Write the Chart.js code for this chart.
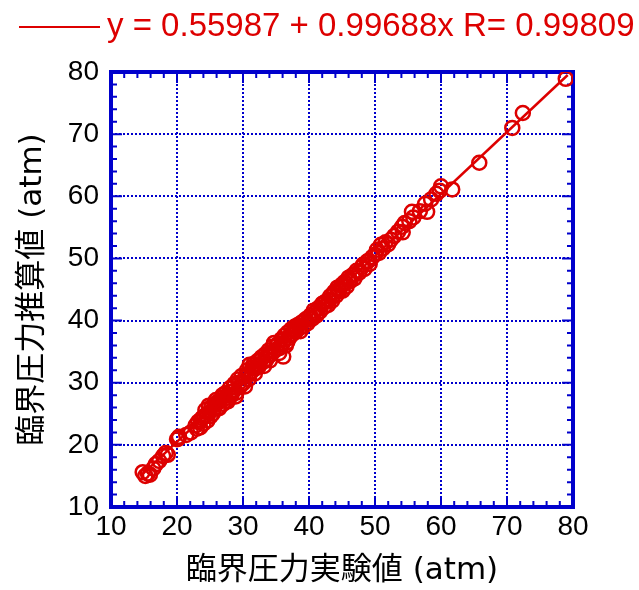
<!DOCTYPE html>
<html>
<head>
<meta charset="utf-8">
<script src="https://cdn.jsdelivr.net/npm/chart.js@4"></script>
<style>
  html, body { margin: 0; padding: 0; background: #fff; }
  #box { width: 639px; height: 590px; }
</style>
</head>
<body>
<div id="box"><canvas id="graph"></canvas></div>
<script>
// measured (x) vs estimated (y) critical pressure, atm
const expValues = [
  14.8, 15.2, 15.6, 15.9, 16.4, 16.8, 17.3, 17.9, 18.3, 18.6,
  20.0, 20.3, 21.4, 22.1, 22.8, 23.2, 23.5, 23.8, 24.1, 24.3,
  24.6, 24.9, 25.2, 25.4, 25.7, 25.9, 26.2, 26.5, 26.8, 27.0,
  27.3, 27.5, 27.8, 28.0, 28.2, 28.5, 28.7, 29.0, 29.2, 29.5,
  29.8, 30.1, 30.3, 30.6, 30.8, 31.0, 31.3, 31.6, 31.9, 32.2,
  32.5, 32.8, 33.1, 33.4, 33.6, 33.9, 34.2, 34.5, 34.7, 35.0,
  35.3, 35.5, 35.8, 36.0, 36.1, 36.3, 36.5, 36.8, 37.0, 37.3,
  37.5, 37.8, 38.0, 38.3, 38.6, 38.9, 39.2, 39.5, 39.8, 40.2,
  40.5, 40.8, 41.1, 41.4, 41.7, 42.0, 42.3, 42.6, 42.9, 43.2,
  43.5, 43.8, 44.1, 44.3, 44.6, 44.9, 45.1, 45.4, 45.7, 46.0,
  46.3, 46.6, 46.9, 47.2, 47.6, 48.0, 48.4, 48.8, 49.2, 49.6,
  50.0, 50.3, 50.6, 50.9, 51.2, 51.6, 52.0, 52.4, 52.9, 53.5,
  54.1, 54.2, 54.5, 55.2, 55.6, 55.8, 56.8, 57.9, 57.6, 58.5,
  59.3, 60.0, 59.8, 61.7, 65.8, 70.8, 72.4, 78.9,
  23.0, 23.6, 24.0, 24.4, 24.8, 25.1, 25.6, 26.0, 26.4, 26.9,
  27.2, 27.7, 28.1, 28.6, 28.9, 29.4, 29.9, 30.4, 30.9, 31.4,
  31.8, 32.3, 32.7, 33.2, 33.7, 34.1, 34.6, 35.1, 35.6, 36.2,
  36.7, 37.2, 37.7, 38.2, 38.7, 39.3, 40.0, 40.7, 41.3, 42.2,
  43.0, 43.7, 44.5, 45.0, 45.6, 46.2, 47.0, 48.2, 49.0, 20.2
];
const calcValues = [
  15.6, 15.0, 15.4, 15.2, 16.2, 16.9, 17.4, 18.2, 18.7, 18.4,
  20.9, 21.3, 21.6, 22.0, 23.1, 23.7, 22.8, 24.3, 24.6, 25.6,
  23.9, 25.2, 26.1, 25.0, 26.5, 27.2, 26.0, 27.0, 27.6, 26.6,
  28.3, 27.1, 28.0, 29.1, 27.9, 28.6, 29.8, 28.4, 30.5, 29.3,
  31.1, 30.0, 29.4, 32.0, 31.2, 32.9, 31.8, 33.0, 32.3, 33.5,
  32.8, 34.1, 33.4, 34.6, 33.8, 35.2, 34.5, 35.8, 36.4, 35.3,
  36.2, 34.8, 37.0, 36.3, 34.2, 37.6, 36.0, 38.1, 37.2, 38.6,
  37.8, 39.0, 38.2, 39.3, 38.8, 39.7, 39.1, 40.2, 39.6, 40.8,
  40.3, 41.2, 40.8, 42.0, 41.5, 42.7, 42.2, 43.1, 42.5, 43.9,
  43.2, 44.6, 44.0, 45.3, 44.7, 45.6, 44.8, 46.2, 45.5, 46.9,
  46.4, 47.3, 46.8, 48.0, 47.7, 48.6, 48.3, 49.5, 49.1, 50.2,
  50.6, 51.4, 50.9, 52.2, 51.6, 52.6, 52.3, 53.0, 53.6, 54.3,
  55.1, 54.2, 55.7, 56.0, 57.5, 56.6, 57.6, 57.5, 58.8, 59.5,
  60.4, 61.6, 60.9, 61.1, 65.4, 71.0, 73.4, 78.9,
  22.6, 24.0, 23.4, 24.8, 26.3, 24.6, 25.8, 26.8, 25.9, 28.0,
  27.4, 27.0, 28.5, 29.4, 27.8, 30.0, 29.8, 31.1, 30.6, 32.4,
  31.5, 32.6, 33.6, 32.7, 34.4, 33.6, 35.0, 36.0, 35.6, 36.9,
  36.5, 37.7, 38.4, 38.9, 38.3, 39.9, 40.4, 41.6, 41.1, 42.8,
  43.3, 44.1, 45.0, 45.8, 46.0, 46.6, 47.5, 49.0, 49.6, 21.0
];
const fitIntercept = 0.55987;
const fitSlope = 0.99688;
const fitR = 0.99809;
const fitRange = [14.5, 79.2];
const axisTicks = [10, 20, 30, 40, 50, 60, 70, 80];

const red = "#dd0000";
const blue = "#0000cc";
const font = "'Liberation Sans', 'Noto Sans CJK JP', sans-serif";
const titleFont = "'DejaVu Sans', 'Noto Sans CJK JP', sans-serif";

let points = expValues.map((x, i) => ({ x: x, y: calcValues[i] }));
let fitLine = fitRange.map((x) => ({ x: x, y: fitIntercept + fitSlope * x }));

// frame, inner ticks and the legend
const framePlugin = {
  id: "frame",
  beforeDatasetsDraw(chart) {
    const { ctx, chartArea: a, scales } = chart;
    ctx.save();
    ctx.strokeStyle = blue;
    ctx.lineWidth = 2;
    for (let v = 10; v <= 80; v += 2) {
      const len = v % 10 === 0 ? 11 : 6;
      const px = scales.x.getPixelForValue(v);
      const py = scales.y.getPixelForValue(v);
      ctx.beginPath();
      ctx.moveTo(px, a.bottom); ctx.lineTo(px, a.bottom - len);
      ctx.moveTo(px, a.top); ctx.lineTo(px, a.top + len);
      ctx.moveTo(a.left, py); ctx.lineTo(a.left + len, py);
      ctx.moveTo(a.right, py); ctx.lineTo(a.right - len, py);
      ctx.stroke();
    }
    ctx.lineWidth = 4;
    ctx.strokeRect(a.left, a.top, a.right - a.left, a.bottom - a.top);
    ctx.restore();
  },
  afterDraw(chart) {
    const ctx = chart.ctx;
    ctx.save();
    ctx.strokeStyle = red;
    ctx.lineWidth = 2;
    ctx.beginPath();
    ctx.moveTo(19, 27); ctx.lineTo(100, 27);
    ctx.stroke();
    ctx.fillStyle = red;
    ctx.font = "33px " + font;
    ctx.textBaseline = "middle";
    ctx.fillText("y = " + fitIntercept + " + " + fitSlope + "x R= " + fitR, 107, 27);
    ctx.restore();
  },
};

function axis(title, isY) {
  return {
    type: "linear",
    min: 10,
    max: 80,
    afterBuildTicks: (s) => { s.ticks = axisTicks.map((v) => ({ value: v })); },
    afterFit: (s) => { if (isY) s.width = 111; else s.height = 83; },
    ticks: { color: "#000", font: { family: font, size: 28 }, padding: isY ? 12 : 3 },
    grid: { color: blue, lineWidth: 2, drawTicks: false },
    border: { display: false, dash: [2, 2] },
    title: {
      display: true,
      text: title,
      color: "#000",
      font: { family: titleFont, size: 31 },
      padding: isY ? { top: 14, bottom: 0 } : { top: 0, bottom: 0 },
    },
  };
}

new Chart(document.getElementById("graph").getContext("2d"), {
  type: "scatter",
  data: {
    datasets: [
      {
        label: "data",
        data: points,
        pointRadius: 7,
        pointHoverRadius: 7,
        pointBorderWidth: 2.5,
        borderColor: red,
        backgroundColor: "transparent",
      },
      {
        type: "line",
        label: "fit",
        data: fitLine,
        borderColor: red,
        borderWidth: 2.5,
        pointRadius: 0,
        fill: false,
      },
    ],
  },
  options: {
    responsive: true,
    maintainAspectRatio: false,
    animation: false,
    layout: { padding: { top: 72, right: 66, left: 0, bottom: 0 } },
    plugins: { legend: { display: false }, tooltip: { enabled: false } },
    scales: {
      x: axis("臨界圧力実験値 (atm)", false),
      y: axis("臨界圧力推算値 (atm)", true),
    },
  },
  plugins: [framePlugin],
});
</script>
</body>
</html>
